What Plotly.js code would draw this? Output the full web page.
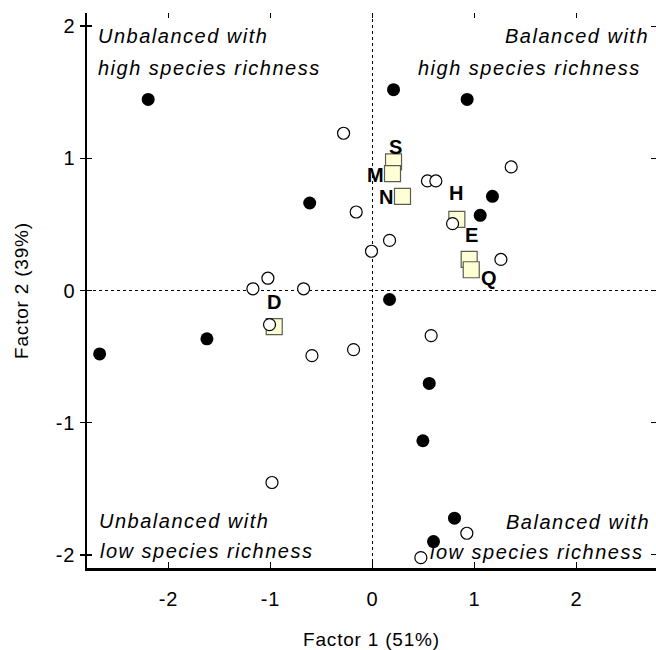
<!DOCTYPE html>
<html>
<head>
<meta charset="utf-8">
<script src="https://cdn.plot.ly/plotly-3.0.1.min.js"></script>
<style>
  body { margin: 0; padding: 0; background: #fff; }
  #chart { width: 656px; height: 650px; }
  .annotation-text { letter-spacing: 1.5px; }
  .xtitle, .ytitle { letter-spacing: 0.8px; }
  .xtick text, .ytick text { letter-spacing: 1px; }
</style>
</head>
<body>
<div id="chart"></div>
<script>
// ---- Data ----
const filledX = [-2.20, 0.206, 0.928, -0.616, 1.176, 1.056, 0.167, -1.624, -2.676, 0.556, 0.494, 0.804, 0.598];
const filledY = [1.446, 1.52, 1.446, 0.662, 0.713, 0.569, -0.068, -0.366, -0.48, -0.703, -1.137, -1.723, -1.90];

const openX = [-0.284, -0.16, 0.539, 0.621, 1.36, 0.785, 0.167, -0.01, 1.259, 0.575, -1.026, -1.173, -0.676, -1.01, -0.594, -0.186, -0.986, 0.925, 0.474];
const openY = [1.19, 0.594, 0.829, 0.829, 0.935, 0.506, 0.379, 0.297, 0.235, -0.341, 0.093, 0.013, 0.013, -0.258, -0.493, -0.447, -1.453, -1.837, -2.022];

const squareLabels = ["S", "M", "N", "H", "E", "Q", "D"];
const squareX = [0.206, 0.196, 0.294, 0.827, 0.948, 0.968, -0.964];
const squareY = [0.973, 0.885, 0.713, 0.538, 0.235, 0.157, -0.273];

const xTicks = [-2, -1, 0, 1, 2];
const yTicks = [-2, -1, 0, 1, 2];
const xTitle = "Factor 1 (51%)";
const yTitle = "Factor 2 (39%)";

// ---- Styling / layout ----
const FONT = "Liberation Sans, Arial, Helvetica, sans-serif";
const W = 656, H = 650;
const M = { l: 87, r: 0, t: 13, b: 82 };

// label offsets in pixels (style only)
const labelShift = {
  S: [3, 15], M: [-17, -1], N: [-16, -1], H: [0, 26], E: [3, 24], Q: [18, -8], D: [1, 25]
};

const traces = [
  {
    type: "scatter", mode: "markers", x: squareX, y: squareY,
    marker: { symbol: "square", size: 16, color: "#FFFFD6", line: { color: "#5c5c50", width: 1.2 } },
    hoverinfo: "skip", showlegend: false
  },
  {
    type: "scatter", mode: "markers", x: openX, y: openY,
    marker: { symbol: "circle", size: 12, color: "#ffffff", line: { color: "#000", width: 1.2 } },
    hoverinfo: "skip", showlegend: false
  },
  {
    type: "scatter", mode: "markers", x: filledX, y: filledY,
    marker: { symbol: "circle", size: 13, color: "#000", line: { color: "#000", width: 0 } },
    hoverinfo: "skip", showlegend: false
  },
  // empty traces to anchor the mirrored tick axes
  { type: "scatter", mode: "markers", x: [], y: [], xaxis: "x2", yaxis: "y2", showlegend: false, hoverinfo: "skip" },
  { type: "scatter", mode: "markers", x: [], y: [], xaxis: "x", yaxis: "y3", showlegend: false, hoverinfo: "skip" }
];

const plotH = H - M.t - M.b;
function py2paper(py) { return 1 - (py - M.t) / plotH; }
function px2paper(px) { return (px - M.l) / (W - M.l - M.r); }

const annotations = [];
squareLabels.forEach((lab, i) => {
  const s = labelShift[lab];
  annotations.push({
    x: squareX[i], y: squareY[i], xref: "x", yref: "y", showarrow: false,
    text: "<b>" + lab + "</b>", xshift: s[0], yshift: s[1],
    xanchor: "center", yanchor: "middle",
    font: { family: FONT, size: 20, color: "#000" }
  });
});

// quadrant captions: [text, pixel x, pixel baseline, anchor]
const captions = [
  ["Unbalanced with", 96, 43, "left"],
  ["high species richness", 96, 75, "left"],
  ["Balanced with", 651, 43, "right"],
  ["high species richness", 643, 75, "right"],
  ["Unbalanced with", 97, 528, "left"],
  ["low species richness", 98, 558, "left"],
  ["Balanced with", 652, 529, "right"],
  ["low species richness", 645, 559, "right"]
];
captions.forEach(c => {
  annotations.push({
    x: px2paper(c[1]), y: py2paper(c[2] - 7), xref: "paper", yref: "paper",
    showarrow: false, text: "<i>" + c[0] + "</i>", xanchor: c[3], yanchor: "middle",
    font: { family: FONT, size: 20, color: "#000" }
  });
});

const layout = {
  width: W, height: H,
  margin: M,
  paper_bgcolor: "#fff", plot_bgcolor: "#fff",
  font: { family: FONT, size: 18, color: "#000" },
  showlegend: false,
  xaxis: {
    range: [-2.8, 2.78], tickvals: xTicks, ticktext: xTicks.map(String),
    ticks: "inside", ticklen: 6, tickwidth: 1.5, tickcolor: "#000",
    showline: true, linecolor: "#000", linewidth: 2.5,
    showgrid: false, zeroline: false, ticklabelstandoff: 11,
    tickfont: { family: FONT, size: 20 },
    title: { text: xTitle, font: { family: FONT, size: 19 }, standoff: 40 },
    automargin: false
  },
  xaxis2: {
    overlaying: "x", matches: "x", range: [-2.8, 2.78], side: "top", anchor: "y2",
    tickvals: xTicks, ticks: "inside", ticklen: 5, tickwidth: 1.2, tickcolor: "#000",
    showticklabels: false, showline: false, showgrid: false, zeroline: false
  },
  yaxis: {
    range: [-2.1, 2.1], tickvals: yTicks, ticktext: yTicks.map(String),
    ticks: "outside", ticklen: 5, tickwidth: 1.5, tickcolor: "#000",
    showline: true, linecolor: "#000", linewidth: 2.5,
    showgrid: false, zeroline: false,
    tickfont: { family: FONT, size: 20 },
    title: { text: yTitle, font: { family: FONT, size: 19 }, standoff: 22 },
    automargin: false
  },
  yaxis2: {
    overlaying: "y", range: [-2.1, 2.1], side: "left", anchor: "x2",
    tickvals: yTicks, ticks: "inside", ticklen: 5, tickwidth: 1.5, tickcolor: "#000",
    showticklabels: false, showline: false, showgrid: false, zeroline: false
  },
  yaxis3: {
    overlaying: "y", range: [-2.1, 2.1], side: "right", anchor: "x",
    tickvals: yTicks, ticks: "inside", ticklen: 5, tickwidth: 1.2, tickcolor: "#000",
    showticklabels: false, showline: false, showgrid: false, zeroline: false
  },
  shapes: [
    { type: "line", xref: "x", yref: "paper", x0: 0, x1: 0, y0: 0, y1: 1,
      line: { color: "#000", width: 1, dash: "dot" }, layer: "below" },
    { type: "line", xref: "paper", yref: "y", x0: 0, x1: 1, y0: 0, y1: 0,
      line: { color: "#000", width: 1, dash: "dot" }, layer: "below" }
  ],
  annotations: annotations
};

Plotly.newPlot("chart", traces, layout, { staticPlot: true, displayModeBar: false });
</script>
</body>
</html>
